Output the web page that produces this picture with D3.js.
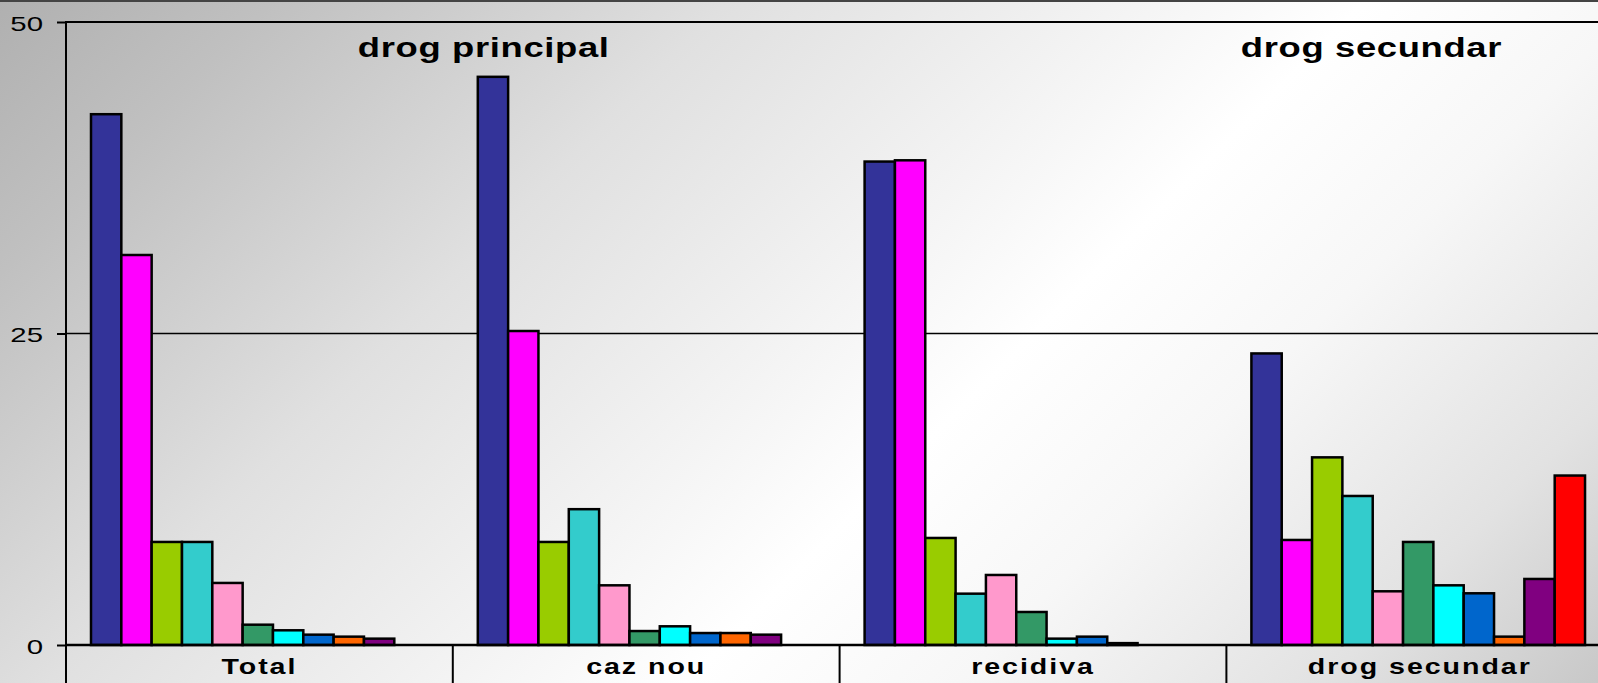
<!DOCTYPE html>
<html><head><meta charset="utf-8">
<script src="https://cdn.jsdelivr.net/npm/d3@7"></script>
<style>html,body{margin:0;padding:0;overflow:hidden;background:#fff}svg{display:block}</style>
</head><body>
<svg id="chart" width="1598" height="683"></svg>
<script>
// ---- data ----
const categories = ["Total", "caz nou", "recidiva", "drog secundar"];
const seriesNames = ["seria 1","seria 2","seria 3","seria 4","seria 5","seria 6","seria 7","seria 8","seria 9","seria 10","seria 11"];
const seriesColors = ["#333399","#FF00FF","#99CC00","#33CCCC","#FF99CC","#339966","#00FFFF","#0066CC","#FF6600","#800080","#FF0000"];
const valuesTotal        = [42.6, 31.3, 8.27, 8.27, 4.98, 1.63, 1.18, 0.83, 0.67, 0.51, 0];
const valuesCazNou       = [45.6, 25.2, 8.27, 10.9, 4.79, 1.12, 1.5, 0.96, 0.96, 0.83, 0];
const valuesRecidiva     = [38.8, 38.9, 8.59, 4.12, 5.62, 2.65, 0.51, 0.67, 0.15, 0, 0];
const valuesDrogSecundar = [23.4, 8.43, 15.06, 11.96, 4.31, 8.27, 4.79, 4.15, 0.67, 5.3, 13.6];
const yTicks = [0, 25, 50];
const annotations = ["drog principal", "drog secundar"];

const valueRows = [valuesTotal, valuesCazNou, valuesRecidiva, valuesDrogSecundar];
const table = categories.map((c, i) => ({cat: c, vals: valueRows[i].map((v, j) => ({s: seriesNames[j], v, color: seriesColors[j]}))}));

// ---- layout ----
const W = 1598, H = 683;
const svg = d3.select("#chart");
const left = 66, bandW = 386.8, zeroY = 645, topY = 22;

const defs = svg.append("defs");
const grad = defs.append("linearGradient").attr("id", "bg")
  .attr("gradientUnits", "userSpaceOnUse").attr("x1", 0).attr("y1", 0).attr("x2", 1140).attr("y2", 1140);
[[0, "#b0b0b0"], [0.12, "#c0c0c0"], [0.32, "#e0e0e0"], [0.6, "#ffffff"], [0.72, "#f7f7f7"], [0.88, "#e2e2e2"], [1, "#c8c8c8"]]
  .forEach(([o, c]) => grad.append("stop").attr("offset", o).attr("stop-color", c));
svg.append("rect").attr("width", W).attr("height", H).attr("fill", "url(#bg)");
svg.append("line").attr("x1", 0).attr("x2", W).attr("y1", 1).attr("y2", 1).attr("stroke", "#444").attr("stroke-width", 2);

const x0 = d3.scaleBand().domain(categories).range([left, left + bandW * categories.length]).padding(0);
const x1 = d3.scaleBand().domain(seriesNames).range([25, 25 + 30.33 * seriesNames.length]).padding(0);
const y = d3.scaleLinear().domain([0, 50]).range([zeroY, topY]);

// gridlines
svg.append("g").selectAll("line").data(yTicks.filter(t => t > 0)).join("line")
  .attr("x1", left).attr("x2", W).attr("y1", d => y(d)).attr("y2", d => y(d))
  .attr("stroke", "#000").attr("stroke-width", d => d === 50 ? 2 : 1.6);

// bars
const groups = svg.append("g").selectAll("g").data(table).join("g")
  .attr("transform", d => `translate(${x0(d.cat)},0)`);
groups.selectAll("rect").data(d => d.vals.filter(e => e.v > 0)).join("rect")
  .attr("x", d => x1(d.s)).attr("width", x1.bandwidth())
  .attr("y", d => y(d.v)).attr("height", d => y(0) - y(d.v))
  .attr("fill", d => d.color).attr("stroke", "#000").attr("stroke-width", 2.5);

// y axis
const yAxis = svg.append("g").attr("transform", `translate(${left},0)`)
  .call(d3.axisLeft(y).tickValues(yTicks).tickSize(9).tickFormat(d3.format("d")));
yAxis.select(".domain").remove();
yAxis.selectAll(".tick line").attr("stroke", "#000").attr("stroke-width", 2);
yAxis.selectAll(".tick text").attr("x", 0).attr("dy", null)
  .attr("transform", "translate(-23,8) scale(1.4,1)")
  .attr("font-family", "'Liberation Sans', Arial, sans-serif").attr("font-size", 21).attr("fill", "#000");
svg.append("line").attr("x1", left).attr("x2", left).attr("y1", topY - 1).attr("y2", H).attr("stroke", "#000").attr("stroke-width", 2);

// zero line
svg.append("line").attr("x1", left).attr("x2", W).attr("y1", y(0)).attr("y2", y(0)).attr("stroke", "#000").attr("stroke-width", 2.5);

// category axis
const xAxis = svg.append("g").attr("transform", `translate(0,${zeroY})`)
  .call(d3.axisBottom(x0).tickSize(0));
xAxis.select(".domain").remove();
xAxis.selectAll(".tick text").attr("y", 0).attr("dy", null)
  .attr("transform", "translate(0,29) scale(1.3,1)")
  .attr("font-family", "'Liberation Sans', Arial, sans-serif").attr("font-weight", "bold")
  .attr("font-size", 22).attr("letter-spacing", 1.5).attr("fill", "#000");
svg.append("g").selectAll("line").data(categories.slice(1)).join("line")
  .attr("x1", d => x0(d)).attr("x2", d => x0(d)).attr("y1", zeroY).attr("y2", H)
  .attr("stroke", "#000").attr("stroke-width", 2);

// annotations
const annX = [x0("Total") + x0.bandwidth() * 1.08, x0("drog secundar") + x0.bandwidth() * 0.375];
svg.append("g").selectAll("text").data(annotations).join("text")
  .attr("transform", (d, i) => `translate(${annX[i]},57) scale(1.3,1)`)
  .attr("text-anchor", "middle")
  .attr("font-family", "'Liberation Sans', Arial, sans-serif").attr("font-weight", "bold")
  .attr("font-size", 28).attr("letter-spacing", 0.5).attr("fill", "#000")
  .text(d => d);
</script>
</body></html>
